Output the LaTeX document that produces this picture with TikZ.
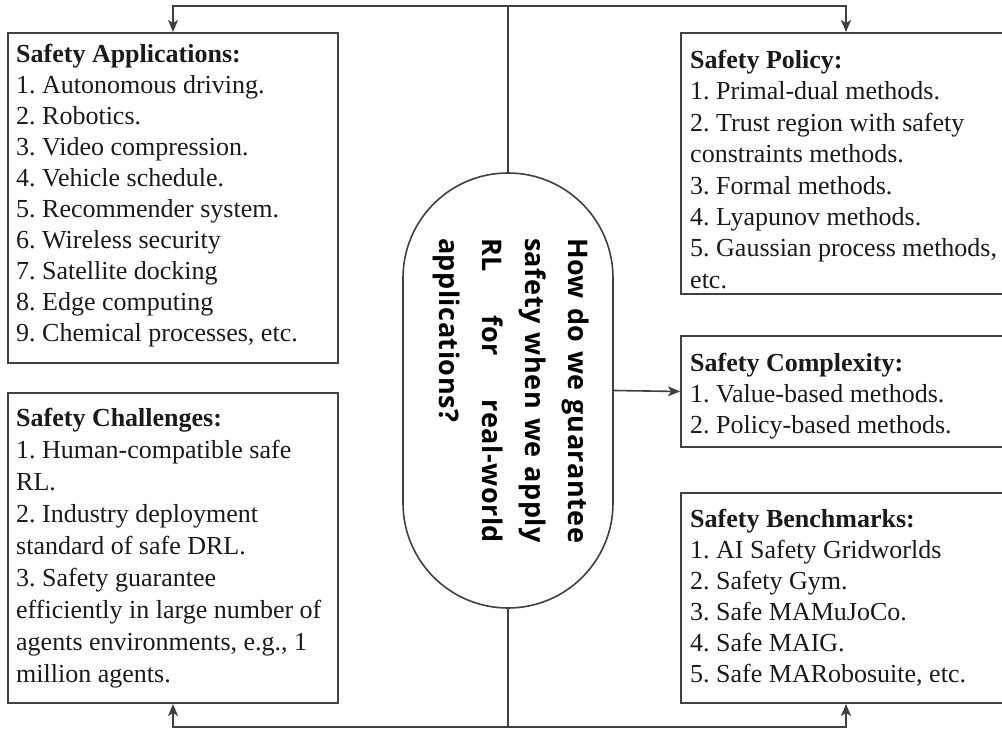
\documentclass[tikz,border=0pt]{standalone}
\usepackage{fontspec}
\setmainfont{Liberation Serif}
\newfontfamily\qfont[LetterSpace=2]{Open Sans}
\usetikzlibrary{arrows.meta}
\definecolor{lc}{HTML}{404040}
\definecolor{tc}{HTML}{1A1A1A}
\frenchspacing
\begin{document}
\begin{tikzpicture}[x=1pt,y=-1pt,
  line/.style={draw=lc, line width=1.6pt},
  arr/.style={line, -{Stealth[length=12pt,width=10pt,inset=3pt]}},
  box/.style={draw=lc, line width=2pt, anchor=north west, inner sep=0pt},
  txt/.style={anchor=north west, inner sep=0pt, align=left, text=tc, font=\frenchspacing\fontsize{26}{31}\selectfont},
  txtb/.style={txt, font=\frenchspacing\fontsize{26}{32}\selectfont},
  txtp/.style={txt, font=\frenchspacing\fontsize{26}{31.4}\selectfont}]
\useasboundingbox (0,0) rectangle (1002,733);

% boxes
\node[box, minimum width=330pt, minimum height=330pt] (app) at (7,32) {};
\node[box, minimum width=330pt, minimum height=310pt] (chal) at (7,392) {};
\node[box, minimum width=330pt, minimum height=261pt] (pol) at (680,32) {};
\node[box, minimum width=330pt, minimum height=111pt] (cplx) at (680,335) {};
\node[box, minimum width=330pt, minimum height=210pt] (bench) at (680,492) {};

% texts
\node[txt] (appt) at (16,44) {\textbf{Safety Applications:}\\
1. Autonomous driving.\\
2. Robotics.\\
3. Video compression.\\
4. Vehicle schedule.\\
5. Recommender system.\\
6. Wireless security\\
7. Satellite docking\\
8. Edge computing\\
9. Chemical processes, etc.};

\node[txtb] (chalt) at (16,408) {\textbf{Safety Challenges:}\\
1. Human-compatible safe\\
RL.\\
2. Industry deployment\\
standard of safe DRL.\\
3. Safety guarantee\\
efficiently in large number of\\
agents environments, e.g., 1\\
million agents.};

\node[txtp] (polt) at (690,50) {\textbf{Safety Policy:}\\
1. Primal-dual methods.\\
2. Trust region with safety\\
constraints methods.\\
3. Formal methods.\\
4. Lyapunov methods.\\
5. Gaussian process methods,\\
etc.};

\node[txt] (cplxt) at (690,353) {\textbf{Safety Complexity:}\\
1. Value-based methods.\\
2. Policy-based methods.};

\node[txt] (bencht) at (690,509) {\textbf{Safety Benchmarks:}\\
1. AI Safety Gridworlds\\
2. Safety Gym.\\
3. Safe MAMuJoCo.\\
4. Safe MAIG.\\
5. Safe MARobosuite, etc.};

% centre capsule
\node[draw=lc, line width=1.6pt, minimum width=210pt, minimum height=435pt, rounded corners=105pt, inner sep=0pt] (cq) at (508,390.5) {};
\node[rotate=-90, inner sep=0pt, align=left, text=black, font=\qfont\bfseries\fontsize{27}{43}\selectfont] (qtext) at (511,390.5)
{\makebox[305pt][s]{How do we guarantee}\\
\makebox[305pt][s]{safety when we apply}\\
\makebox[305pt][s]{RL for real-world}\\
applications?};

% connectors
\coordinate (top) at (508,6);
\coordinate (bot) at (508,727);
\draw[line] (cq.north) -- (top);
\draw[arr] (top) -| (app.north);
\draw[arr] (top) -| (pol.north);
\draw[line] (cq.south) -- (bot);
\draw[arr] (bot) -| (chal.south);
\draw[arr] (bot) -| (bench.south);
\draw[arr] (cq.east) -- (cplx.west);
\end{tikzpicture}
\end{document}
